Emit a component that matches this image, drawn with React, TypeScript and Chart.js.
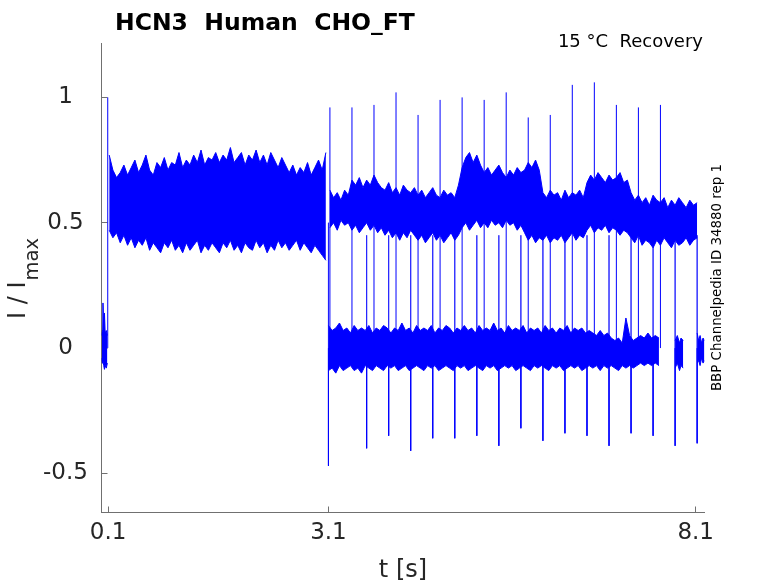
import { useEffect, useRef } from "react";
import { Chart, registerables } from "chart.js";

Chart.register(...registerables);

// trace envelopes (current as I / I_max),
// each band sampled every 0.05 s from its start time
const SAMPLE = 0.05;

const blobT = [0.012, 0.02, 0.03, 0.04, 0.05, 0.06, 0.075, 0.09];
const blobHi = [0.05, 0.07, 0.18, 0.08, 0.14, 0.06, 0.07, 0.05];
const blobLo = [-0.04, -0.06, -0.05, -0.07, -0.085, -0.07, -0.08, -0.06];

// activation step, all sweeps together
const stepStart = 0.115;
const stepHi = [
	0.77, 0.71, 0.68, 0.70, 0.73, 0.69, 0.72, 0.75, 0.70, 0.73,
	0.77, 0.71, 0.69, 0.74, 0.72, 0.76, 0.71, 0.74, 0.73, 0.78,
	0.72, 0.75, 0.73, 0.77, 0.74, 0.79, 0.73, 0.76, 0.75, 0.78,
	0.74, 0.77, 0.75, 0.80, 0.74, 0.76, 0.78, 0.73, 0.77, 0.75,
	0.79, 0.74, 0.77, 0.73, 0.78, 0.75, 0.72, 0.76, 0.73, 0.70,
	0.73, 0.69, 0.72, 0.70, 0.74, 0.69, 0.72, 0.75, 0.71, 0.78,
];
const stepLo = [
	0.47, 0.44, 0.46, 0.42, 0.45, 0.41, 0.44, 0.40, 0.43, 0.41,
	0.44, 0.39, 0.42, 0.40, 0.38, 0.42, 0.40, 0.43, 0.39, 0.41,
	0.38, 0.42, 0.39, 0.41, 0.43, 0.38, 0.41, 0.39, 0.42, 0.40,
	0.38, 0.42, 0.40, 0.43, 0.39, 0.41, 0.38, 0.42, 0.40, 0.39,
	0.43, 0.40, 0.42, 0.38, 0.41, 0.39, 0.43, 0.40, 0.42, 0.39,
	0.41, 0.43, 0.39, 0.42, 0.40, 0.38, 0.41, 0.39, 0.37, 0.35,
];

// sweeps still open during the recovery interval
const openStart = 3.12;
const openHi = [
	0.63, 0.60, 0.62, 0.59, 0.63, 0.61,
	0.67, 0.65, 0.68, 0.64, 0.67, 0.65, 0.69, 0.66, 0.64,
	0.63, 0.66, 0.62, 0.64, 0.61, 0.65, 0.63, 0.62, 0.64,
	0.61, 0.63, 0.60, 0.62, 0.64, 0.61, 0.60, 0.63, 0.61, 0.62, 0.60, 0.65,
	0.72, 0.76, 0.78, 0.74, 0.77, 0.73,
	0.70, 0.72, 0.69, 0.71, 0.73, 0.70, 0.68, 0.71, 0.69, 0.72, 0.70, 0.71,
	0.74, 0.72, 0.75, 0.71,
	0.62, 0.60, 0.63, 0.61, 0.62, 0.59, 0.63, 0.60, 0.62, 0.61, 0.63, 0.60,
	0.66, 0.69, 0.67, 0.70, 0.68, 0.66, 0.69, 0.67, 0.68, 0.70, 0.66, 0.67,
	0.62, 0.59, 0.61, 0.58, 0.60, 0.57, 0.61, 0.59, 0.58, 0.60, 0.56, 0.59, 0.57, 0.60, 0.58, 0.56, 0.59, 0.57, 0.58,
];
const openLo = [
	0.48, 0.50, 0.47, 0.51, 0.49, 0.50,
	0.47, 0.49, 0.46, 0.48, 0.50, 0.47, 0.49, 0.46, 0.48,
	0.45, 0.47, 0.44, 0.46, 0.43, 0.46, 0.44, 0.47, 0.45,
	0.43, 0.45, 0.42, 0.44, 0.46, 0.43, 0.45, 0.42, 0.44, 0.46, 0.43, 0.45,
	0.48, 0.50, 0.47, 0.49, 0.51, 0.48,
	0.50, 0.48, 0.51, 0.49, 0.50, 0.48, 0.51, 0.49, 0.50, 0.47, 0.49, 0.46,
	0.43, 0.45, 0.42, 0.44,
	0.43, 0.45, 0.42, 0.44, 0.43, 0.45, 0.42, 0.44, 0.46, 0.43, 0.45, 0.44,
	0.47, 0.49, 0.46, 0.48, 0.47, 0.49, 0.46, 0.48, 0.47, 0.45, 0.47, 0.46,
	0.44, 0.42, 0.45, 0.41, 0.43, 0.42, 0.40, 0.43, 0.41, 0.44, 0.42, 0.40, 0.43, 0.41, 0.42, 0.44, 0.41, 0.43, 0.44,
];

// sweeps back at the holding level
const closedStart = 3.1;
const closedHi = [
	0.09, 0.07, 0.08, 0.10, 0.07, 0.08, 0.06, 0.09, 0.07, 0.08,
	0.07, 0.09, 0.06, 0.08, 0.07, 0.09, 0.08, 0.06, 0.08, 0.07,
	0.10, 0.07, 0.08, 0.06, 0.09, 0.07, 0.08, 0.07, 0.09, 0.06,
	0.08, 0.07, 0.09, 0.08, 0.06, 0.08, 0.07, 0.09, 0.07, 0.08,
	0.06, 0.09, 0.07, 0.08, 0.07, 0.10, 0.07, 0.08, 0.06, 0.09,
	0.07, 0.08, 0.07, 0.09, 0.06, 0.08, 0.07, 0.08, 0.06, 0.09,
	0.07, 0.08, 0.06, 0.08, 0.07, 0.09, 0.06, 0.08, 0.07, 0.08,
	0.06, 0.07, 0.06, 0.05, 0.07, 0.05, 0.06, 0.04,
	0.03, 0.04, 0.02, 0.12, 0.05, 0.03, 0.04,
	0.05, 0.04, 0.06, 0.04, 0.05, 0.04,
];
const closedLo = [
	-0.09, -0.08, -0.10, -0.07, -0.09, -0.08, -0.07, -0.09, -0.08, -0.10,
	-0.07, -0.08, -0.09, -0.07, -0.08, -0.09, -0.07, -0.08, -0.07, -0.09,
	-0.08, -0.07, -0.09, -0.08, -0.07, -0.08, -0.09, -0.07, -0.08, -0.07,
	-0.09, -0.08, -0.07, -0.08, -0.09, -0.07, -0.08, -0.07, -0.09, -0.08,
	-0.07, -0.08, -0.09, -0.07, -0.08, -0.07, -0.09, -0.08, -0.07, -0.08,
	-0.07, -0.09, -0.08, -0.07, -0.08, -0.09, -0.07, -0.08, -0.07, -0.08,
	-0.09, -0.07, -0.08, -0.07, -0.09, -0.08, -0.07, -0.08, -0.07, -0.09,
	-0.08, -0.07, -0.08, -0.07, -0.09, -0.07, -0.08, -0.07,
	-0.08, -0.09, -0.07, -0.08, -0.07, -0.08, -0.07,
	-0.06, -0.07, -0.06, -0.07, -0.06, -0.07,
];

const tailAT = [7.82, 7.85, 7.88, 7.9, 7.93];
const tailAHi = [0.03, 0.05, 0.02, 0.04, 0.03];
const tailALo = [-0.08, -0.06, -0.09, -0.07, -0.08];
const tailBT = [8.12, 8.14, 8.16, 8.18, 8.2, 8.22];
const tailBHi = [0.06, 0.03, 0.05, 0.02, 0.04, 0.03];
const tailBLo = [-0.06, -0.05, -0.07, -0.04, -0.06, -0.05];

// capacitive transients
const upT = [0.095, 3.12, 3.42, 3.72, 4.02, 4.32, 4.62, 4.92, 5.22, 5.52, 5.82, 6.12, 6.42, 6.72, 7.02, 7.32, 7.62];
const upFrom = [0, 0, 0, 0, 0, 0, 0, 0, 0, 0, 0, 0, 0, 0, 0, 0, 0];
const upTop = [1.0, 0.96, 0.96, 0.97, 1.02, 0.93, 0.99, 1.0, 0.99, 1.02, 0.92, 0.93, 1.05, 1.06, 0.97, 0.96, 0.97];
const downT = [3.1, 3.62, 3.92, 4.22, 4.52, 4.82, 5.12, 5.42, 5.72, 6.02, 6.32, 6.62, 6.92, 7.22, 7.52, 7.82, 8.12];
const downFrom = [0.5, 0.45, 0.45, 0.45, 0.45, 0.45, 0.45, 0.45, 0.45, 0.45, 0.45, 0.45, 0.45, 0.45, 0.45, 0.45, 0.45];
const downMid = [0, 0, 0, 0, 0, 0, 0, 0, 0, 0, 0, 0, 0, 0, 0, 0, 0];
const downBottom = [-0.47, -0.4, -0.35, -0.41, -0.36, -0.36, -0.35, -0.39, -0.32, -0.37, -0.34, -0.35, -0.39, -0.34, -0.35, -0.39, -0.38];

const xTicks = [0.1, 3.1, 8.1];
const xTickLabels = ["0.1", "3.1", "8.1"];
const yTicks = [-0.5, 0, 0.5, 1];
const yTickLabels = ["-0.5", "0", "0.5", "1"];

const titleText = "HCN3  Human  CHO_FT";
const conditionText = "15 °C  Recovery";
const sideNote = "BBP Channelpedia ID 34880 rep 1";
const xLabel = "t [s]";

const BLUE = "#0000ff";
const FONT = "'DejaVu Sans', sans-serif";

function pts(ts: number[], vs: number[]) {
	return ts.map((t, i) => ({ x: t, y: vs[i] }));
}

function sampled(start: number, vs: number[]) {
	return vs.map((v, i) => ({ x: start + i * SAMPLE, y: v }));
}

function bars(ts: number[], from: number[], to: number[]) {
	const out: { x: number, y: number | null }[] = [];
	ts.forEach((t, i) => {
		out.push({ x: t, y: from[i] }, { x: t, y: to[i] }, { x: t, y: null });
	});
	return out;
}

function band(hi: any[], lo: any[]) {
	return [
		{ data: hi, borderColor: BLUE, borderWidth: 1, fill: false },
		{ data: lo, borderColor: BLUE, borderWidth: 1, backgroundColor: BLUE, fill: "-1" },
	];
}

const annotations = {
	id: "annotations",
	afterDraw(chart: Chart) {
		const { ctx, chartArea } = chart;
		ctx.save();
		ctx.textBaseline = "alphabetic";
		ctx.fillStyle = "#000";
		ctx.textAlign = "left";
		ctx.font = `bold 23.5px ${FONT}`;
		ctx.fillText(titleText, 115, 30);
		ctx.font = `18px ${FONT}`;
		ctx.textAlign = "right";
		ctx.fillText(conditionText, 703, 47);

		ctx.fillStyle = "#262626";
		ctx.font = `24px ${FONT}`;
		ctx.textAlign = "center";
		ctx.fillText(xLabel, (chartArea.left + chartArea.right) / 2, 577);

		ctx.translate(25, 319);
		ctx.rotate(-Math.PI / 2);
		ctx.textAlign = "left";
		ctx.fillText("I / I", 0, 0);
		const w = ctx.measureText("I / I").width;
		ctx.font = `19.5px ${FONT}`;
		ctx.fillText("max", w + 1, 13);
		ctx.restore();

		ctx.save();
		ctx.translate(720.5, 277.5);
		ctx.rotate(-Math.PI / 2);
		ctx.font = `13.4px ${FONT}`;
		ctx.textAlign = "center";
		ctx.fillStyle = "#000";
		ctx.fillText(sideNote, 0, 0);
		ctx.restore();
	}
};

export default function App() {
	const chartRef = useRef<HTMLCanvasElement>(null);

	useEffect(() => {
		if (chartRef.current == null) {
			return;
		}

		const datasets: any[] = [
			...band(pts(blobT, blobHi), pts(blobT, blobLo)),
			...band(sampled(stepStart, stepHi), sampled(stepStart, stepLo)),
			...band(sampled(openStart, openHi), sampled(openStart, openLo)),
			...band(sampled(closedStart, closedHi), sampled(closedStart, closedLo)),
			...band(pts(tailAT, tailAHi), pts(tailAT, tailALo)),
			...band(pts(tailBT, tailBHi), pts(tailBT, tailBLo)),
			{ data: bars(downT, downFrom, downMid), borderColor: "rgba(0,0,255,0.55)", borderWidth: 1, fill: false },
			{ data: bars(downT, downMid, downBottom), borderColor: BLUE, borderWidth: 1, fill: false },
			{ data: bars(upT, upFrom, upTop), borderColor: BLUE, borderWidth: 1, fill: false },
		];

		const axisGrey = "#707070";

		const chart = new Chart(chartRef.current, {
			type: "line",
			data: { datasets },
			options: {
				animation: false,
				responsive: true,
				maintainAspectRatio: false,
				events: [],
				layout: { padding: { left: 0, right: 73.5, top: 43, bottom: 0 } },
				elements: { point: { radius: 0 }, line: { tension: 0 } },
				plugins: {
					legend: { display: false },
					tooltip: { enabled: false },
				},
				scales: {
					x: {
						type: "linear",
						min: 0.01,
						max: 8.22,
						grid: { drawOnChartArea: false, drawTicks: true, tickLength: -6, color: axisGrey },
						border: { color: axisGrey, width: 1 },
						ticks: {
							autoSkip: false,
							maxRotation: 0,
							padding: 13,
							color: "#262626",
							font: { family: FONT, size: 23 },
							callback: (_v: any, i: number) => xTickLabels[i],
						},
						afterBuildTicks: (s: any) => { s.ticks = xTicks.map(v => ({ value: v })); },
						afterFit: (s: any) => { s.height = 70.5; },
					},
					y: {
						type: "linear",
						min: -0.656,
						max: 1.217,
						grid: { drawOnChartArea: false, drawTicks: true, tickLength: -6, color: axisGrey },
						border: { color: axisGrey, width: 1 },
						ticks: {
							crossAlign: "center",
							padding: 19.6,
							color: "#262626",
							font: { family: FONT, size: 23 },
							callback: (_v: any, i: number) => yTickLabels[i],
						},
						afterBuildTicks: (s: any) => { s.ticks = yTicks.map(v => ({ value: v })); },
						afterFit: (s: any) => { s.width = 101.5; },
					},
				},
			},
			plugins: [annotations],
		});

		return () => {
			chart.destroy();
		};
	}, []);

	return (
		<div style={{ position: "fixed", left: 0, top: 0, width: 778, height: 583, background: "#fff" }}>
			<canvas ref={chartRef} />
		</div>
	);
}
